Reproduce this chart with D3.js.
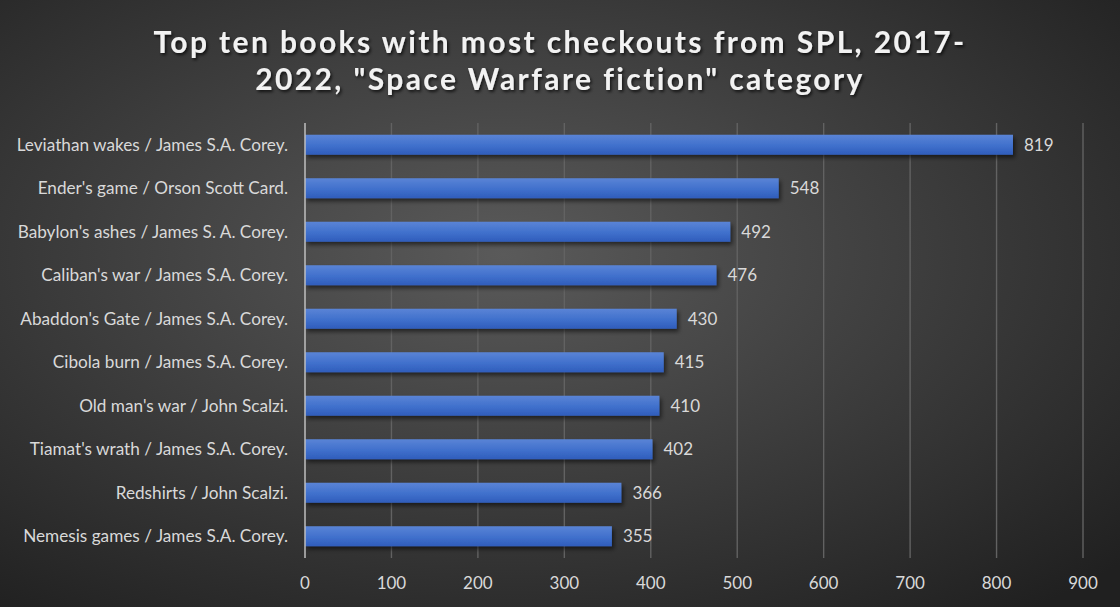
<!DOCTYPE html>
<html><head><meta charset="utf-8">
<script src="https://cdn.jsdelivr.net/npm/d3@7"></script>
<style>html,body{margin:0;padding:0;background:#2a2a2a;}svg{display:block;}</style>
</head><body>
<svg id="c" width="1120" height="607"></svg>
<script>
const titleLines = ["Top ten books with most checkouts from SPL, 2017-", "2022, \"Space Warfare fiction\" category"];
const categories = ["Leviathan wakes / James S.A. Corey.","Ender's game / Orson Scott Card.","Babylon's ashes / James S. A. Corey.","Caliban's war / James S.A. Corey.","Abaddon's Gate / James S.A. Corey.","Cibola burn / James S.A. Corey.","Old man's war / John Scalzi.","Tiamat's wrath / James S.A. Corey.","Redshirts / John Scalzi.","Nemesis games / James S.A. Corey."];
const checkouts = [819,548,492,476,430,415,410,402,366,355];
const xTicks = [0,100,200,300,400,500,600,700,800,900];

const W=1120,H=607;
const svg=d3.select("#c");
const defs=svg.append("defs");
const bg=defs.append("radialGradient").attr("id","bg").attr("cx","45%").attr("cy","42%").attr("r","75%");
bg.append("stop").attr("offset","0%").attr("stop-color","#5a5a5a");
bg.append("stop").attr("offset","100%").attr("stop-color","#202020");
const bar=defs.append("linearGradient").attr("id","bar").attr("x1",0).attr("y1",0).attr("x2",0).attr("y2",1);
bar.append("stop").attr("offset","0%").attr("stop-color","#5a84d6");
bar.append("stop").attr("offset","55%").attr("stop-color","#4070cc");
bar.append("stop").attr("offset","100%").attr("stop-color","#2f5dbb");
const sh=defs.append("filter").attr("id","sh").attr("x","-5%").attr("y","-50%").attr("width","110%").attr("height","220%");
sh.append("feDropShadow").attr("dx",2).attr("dy",3).attr("stdDeviation",2).attr("flood-color","#000").attr("flood-opacity",0.55);
const tsh=defs.append("filter").attr("id","tsh").attr("x","-5%").attr("y","-30%").attr("width","110%").attr("height","160%");
tsh.append("feDropShadow").attr("dx",1.5).attr("dy",2).attr("stdDeviation",1.5).attr("flood-color","#000").attr("flood-opacity",0.7);

svg.append("rect").attr("width",W).attr("height",H).attr("fill","url(#bg)");

const x=d3.scaleLinear().domain([0,900]).range([305,1083]);
const y=d3.scaleBand().domain(categories).range([123,558]).paddingInner(0.54).paddingOuter(0.27);

// gridlines
svg.append("g").selectAll("line").data(xTicks.slice(1)).join("line")
  .attr("x1",d=>x(d)).attr("x2",d=>x(d)).attr("y1",123).attr("y2",558)
  .attr("stroke","#626262").attr("stroke-width",1.4);

// bars
svg.append("g").selectAll("rect").data(categories).join("rect")
  .attr("x",x(0)).attr("y",d=>y(d)).attr("width",(d,i)=>x(checkouts[i])-x(0)).attr("height",y.bandwidth())
  .attr("fill","url(#bar)").attr("filter","url(#sh)");

// axis line
svg.append("line").attr("x1",x(0)).attr("x2",x(0)).attr("y1",123).attr("y2",558).attr("stroke","#bfbfbf").attr("stroke-width",1.5);

const font="Lato, 'Open Sans', sans-serif";
// category labels
svg.append("g").selectAll("text").data(categories).join("text")
  .attr("x",288).attr("y",d=>y(d)+y.bandwidth()/2).attr("dy","0.35em")
  .attr("text-anchor","end").attr("fill","#d9d9d9").attr("font-family",font).attr("font-size",17.2)
  .text(d=>d);

// value labels
svg.append("g").selectAll("text").data(categories).join("text")
  .attr("x",(d,i)=>x(checkouts[i])+11).attr("y",d=>y(d)+y.bandwidth()/2).attr("dy","0.35em")
  .attr("fill","#d9d9d9").attr("font-family",font).attr("font-size",17)
  .text((d,i)=>checkouts[i]);

// x tick labels
svg.append("g").selectAll("text").data(xTicks).join("text")
  .attr("x",d=>x(d)).attr("y",583).attr("dy","0.35em").attr("text-anchor","middle")
  .attr("fill","#d9d9d9").attr("font-family",font).attr("font-size",17)
  .text(d=>d);

// title
svg.append("g").attr("filter","url(#tsh)").selectAll("text").data(titleLines).join("text")
  .attr("x",560).attr("y",(d,i)=>42+i*37).attr("dy","0.35em").attr("text-anchor","middle")
  .attr("fill","#f2f2f2").attr("font-family",font).attr("font-weight","bold").attr("font-size",30)
  .attr("letter-spacing","2.4px")
  .text(d=>d);
</script>
</body></html>
